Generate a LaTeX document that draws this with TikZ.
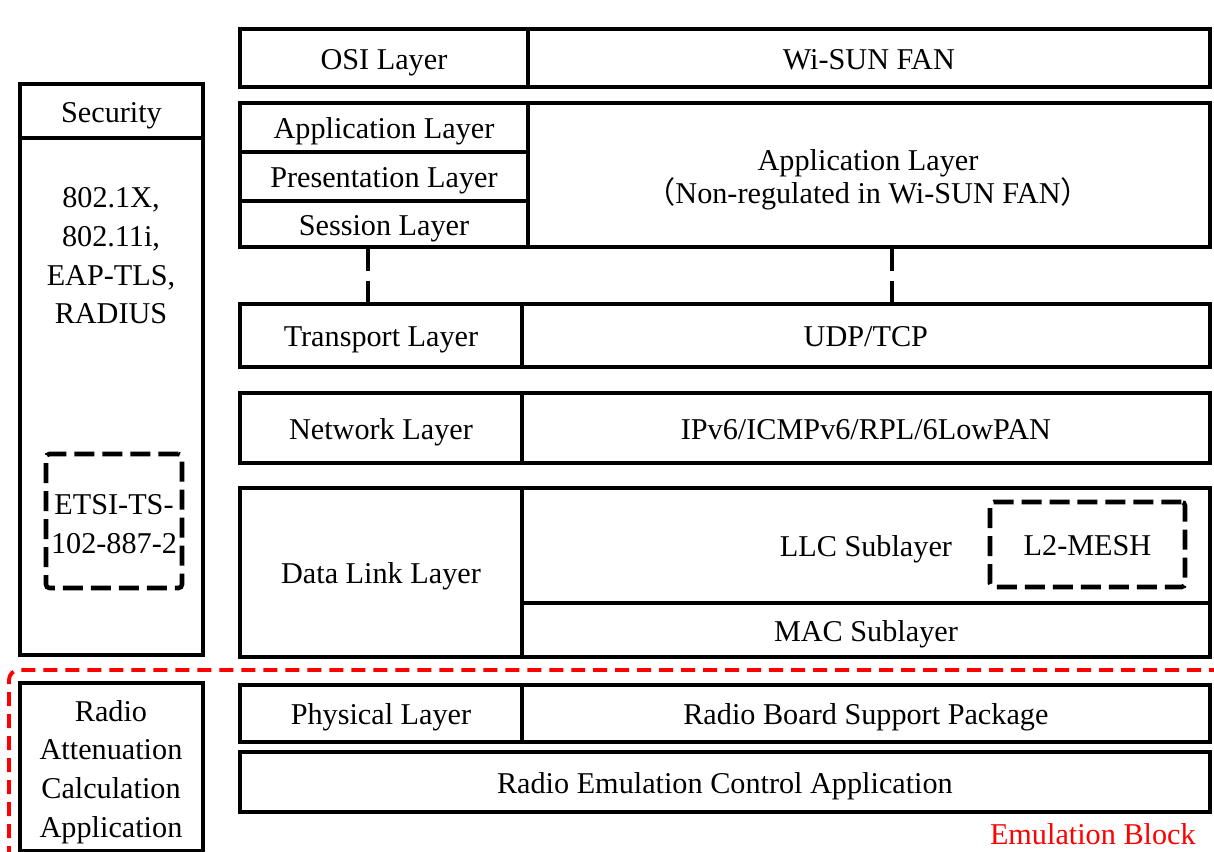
\documentclass[tikz,border=0pt]{standalone}
\usepackage{fontspec}
\setmainfont{Liberation Serif}
\newfontfamily\cjk{Noto Sans CJK SC}
\usetikzlibrary{positioning,calc}
\tikzset{
    x=0.02cm, y=-0.02cm,
    cell/.style = {draw, line width=2.6pt, inner sep=2pt, outer sep=0pt, align=center,
                   anchor=north west, text height=12.8pt, text depth=0pt,
                   font=\fontsize{17.2}{22}\selectfont},
    txt/.style = {inner sep=0pt, align=center, font=\fontsize{17.2}{22}\selectfont},
    dashbox/.style = {draw, line width=2.6pt, dash pattern=on 0.4cm off 0.16cm, rounded corners=2pt,
                      inner sep=0pt, align=center, text height=12.8pt, text depth=0pt,
                      font=\fontsize{17.2}{22}\selectfont},
    dashlink/.style = {line width=2.6pt, dash pattern=on 0.48cm off 0.2cm},
    emul/.style = {draw=red, line width=2.2pt, dash pattern=on 0.28cm off 0.16cm, rounded corners=0.2cm}
}
\begin{document}
\begin{tikzpicture}
    \useasboundingbox (0,0) rectangle (1214,852);

    % OSI / Wi-SUN header
    \node[cell, minimum width=5.76cm, minimum height=1.16cm] (osi) at (240,29) {OSI Layer};
    \node[cell, minimum width=13.64cm, minimum height=1.16cm] (wisun) [right=0pt of osi] {Wi-SUN FAN};

    % upper layers
    \node[cell, minimum width=5.76cm, minimum height=0.98cm] (appl) at (240,103) {Application Layer};
    \node[cell, minimum width=5.76cm, minimum height=0.98cm] (pres) [below=0pt of appl] {Presentation Layer};
    \node[cell, minimum width=5.76cm, minimum height=0.92cm] (sess) [below=0pt of pres] {Session Layer};
    \node[cell, minimum width=13.64cm, minimum height=2.88cm] (appr) at (528,103) {};
    \node[txt, font=\fontsize{17.2}{19}\selectfont] (apprtxt) at (868,180)
        {Application Layer\\{\cjk （}Non-regulated in Wi-SUN FAN{\cjk ）}};

    \node[cell, minimum width=5.64cm, minimum height=1.26cm] (trans) at (240,304) {Transport Layer};
    \node[cell, minimum width=13.76cm, minimum height=1.26cm] (udp) [right=0pt of trans] {UDP/TCP};

    \node[cell, minimum width=5.64cm, minimum height=1.4cm] (net) at (240,393) {Network Layer};
    \node[cell, minimum width=13.76cm, minimum height=1.4cm] (ipv6) [right=0pt of net] {IPv6/ICMPv6/RPL/6LowPAN};

    \node[cell, minimum width=5.64cm, minimum height=3.38cm] (dll) at (240,488) {Data Link Layer};
    \node[cell, minimum width=13.76cm, minimum height=2.3cm] (llc) at (522,488) {LLC Sublayer};
    \node[cell, minimum width=13.76cm, minimum height=1.08cm] (mac) [below=0pt of llc] {MAC Sublayer};
    \node[dashbox, minimum width=3.9cm, minimum height=1.7cm] (mesh) at (1087.5,544.5) {L2-MESH};

    \node[cell, minimum width=5.64cm, minimum height=1.14cm] (phys) at (240,685) {Physical Layer};
    \node[cell, minimum width=13.76cm, minimum height=1.14cm] (rbsp) [right=0pt of phys] {Radio Board Support Package};
    \node[cell, minimum width=19.4cm, minimum height=1.2cm] (rect) at (240,752) {Radio Emulation Control Application};

    % security column
    \node[cell, minimum width=3.66cm, minimum height=1.08cm] (secu) at (20,84) {Security};
    \node[cell, minimum width=3.66cm, minimum height=10.34cm] (secbody) [below=0pt of secu] {};
    \node[txt] (proto) at (111,256) {802.1X,\\802.11i,\\EAP-TLS,\\RADIUS};
    \node[dashbox, minimum width=2.72cm, minimum height=2.68cm] (etsi) at (114,521) {};
    \node[txt] (etsitxt) at (114,524) {ETSI-TS-\\102-887-2};

    \node[cell, minimum width=3.66cm, minimum height=3.36cm] (radio) at (20,683) {};
    \node[txt] (radiotxt) at (111,772) {Radio\\Attenuation\\Calculation\\Application};

    % links between session and transport
    \draw[dashlink] (sess.south west) ++(128,0) coordinate (s1) -- (s1 |- trans.north);
    \draw[dashlink] (appr.south west) ++(364,0) coordinate (s2) -- (s2 |- udp.north);

    % emulation block
    \coordinate (eb) at (9,860);
    \coordinate (ee) at (1220,670);
    \draw[emul] (eb) |- (ee);
    \node[txt, text=red, anchor=east] (emlabel) at (1196,834) {Emulation Block};
\end{tikzpicture}
\end{document}
